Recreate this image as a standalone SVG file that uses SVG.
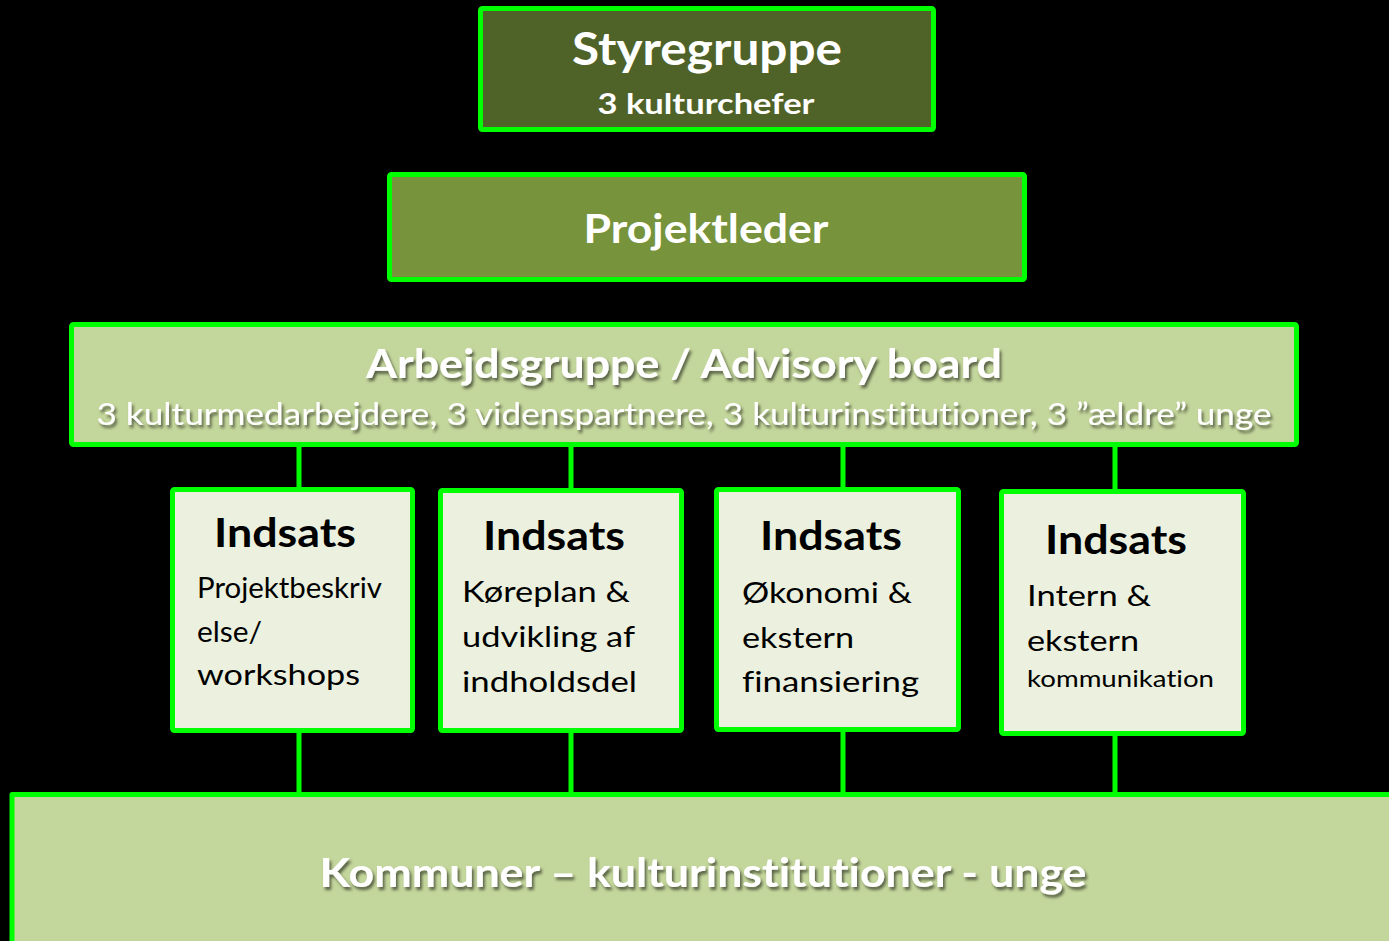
<svg xmlns="http://www.w3.org/2000/svg" width="1389" height="941" viewBox="0 0 1389 941">
<defs>
<filter id="sh" x="-5%" y="-30%" width="110%" height="160%">
<feDropShadow dx="2" dy="3" stdDeviation="1.5" flood-color="#000" flood-opacity="0.55"/>
</filter>
</defs>
<style>
.box{stroke:#00FF00;stroke-width:5;stroke-linejoin:round}
.con{stroke:#00FF00;stroke-width:5;fill:none}
.t{font-family:Lato,"Open Sans","Liberation Sans",sans-serif;font-variant-ligatures:none;font-feature-settings:"liga" 0,"clig" 0,"dlig" 0}
.b{font-weight:bold}
.w{fill:#FFFFFF}
.k{fill:#000000}
.c{text-anchor:middle}
.ind{font-size:41px;font-weight:bold;fill:#000}
.body{font-size:28px;fill:#000}
</style>
<rect x="0" y="0" width="1389" height="941" fill="#000"/>
<g id="connectors">
<line class="con" x1="299" y1="446" x2="299" y2="490"/>
<line class="con" x1="571" y1="446" x2="571" y2="490"/>
<line class="con" x1="843" y1="446" x2="843" y2="490"/>
<line class="con" x1="1115" y1="446" x2="1115" y2="492"/>
<line class="con" x1="299" y1="731" x2="299" y2="795"/>
<line class="con" x1="571" y1="731" x2="571" y2="795"/>
<line class="con" x1="843" y1="730" x2="843" y2="795"/>
<line class="con" x1="1115" y1="734" x2="1115" y2="795"/>
</g>
<g id="styregruppe">
<rect class="box" x="480.5" y="8.5" width="453" height="121" rx="2" fill="#4F6228"/>
<text class="t b w c" x="707" y="65" font-size="46" textLength="270" lengthAdjust="spacingAndGlyphs">Styregruppe</text>
<text class="t b w c" x="706" y="114" font-size="29" textLength="217" lengthAdjust="spacingAndGlyphs">3 kulturchefer</text>
</g>
<g id="projektleder">
<rect class="box" x="389.5" y="174.5" width="635" height="105" rx="2" fill="#77933C"/>
<text class="t b w c" x="706" y="243" font-size="41" textLength="245" lengthAdjust="spacingAndGlyphs">Projektleder</text>
</g>
<g id="arbejdsgruppe">
<rect class="box" x="71.5" y="324.5" width="1225" height="120" rx="2" fill="#C3D69B"/>
<text class="t b w c" x="684" y="378" font-size="41" filter="url(#sh)" textLength="636" lengthAdjust="spacingAndGlyphs">Arbejdsgruppe / Advisory board</text>
<text class="t w c" x="684" y="425" font-size="30" filter="url(#sh)" textLength="1175" lengthAdjust="spacingAndGlyphs">3 kulturmedarbejdere, 3 videnspartnere, 3 kulturinstitutioner, 3 ”ældre” unge</text>
</g>
<g id="indsats1">
<rect class="box" x="172.5" y="489.5" width="240" height="241" rx="2" fill="#EBF1DE"/>
<text class="t ind" x="214" y="547" textLength="142" lengthAdjust="spacingAndGlyphs">Indsats</text>
<text class="t body" x="197" y="598" textLength="185" lengthAdjust="spacingAndGlyphs">Projektbeskriv</text>
<text class="t body" x="197" y="642" textLength="65" lengthAdjust="spacingAndGlyphs">else/</text>
<text class="t body" x="197" y="685" textLength="163" lengthAdjust="spacingAndGlyphs">workshops</text>
</g>
<g id="indsats2">
<rect class="box" x="440.5" y="490.5" width="241" height="240" rx="2" fill="#EBF1DE"/>
<text class="t ind" x="483" y="550" textLength="142" lengthAdjust="spacingAndGlyphs">Indsats</text>
<text class="t body" x="462" y="602" textLength="168" lengthAdjust="spacingAndGlyphs">Køreplan &amp;</text>
<text class="t body" x="462" y="647" textLength="173" lengthAdjust="spacingAndGlyphs">udvikling af</text>
<text class="t body" x="462" y="692" textLength="175" lengthAdjust="spacingAndGlyphs">indholdsdel</text>
</g>
<g id="indsats3">
<rect class="box" x="716.5" y="489.5" width="242" height="240" rx="2" fill="#EBF1DE"/>
<text class="t ind" x="760" y="550" textLength="142" lengthAdjust="spacingAndGlyphs">Indsats</text>
<text class="t body" x="742" y="603" textLength="170" lengthAdjust="spacingAndGlyphs">Økonomi &amp;</text>
<text class="t body" x="742" y="648" textLength="112" lengthAdjust="spacingAndGlyphs">ekstern</text>
<text class="t body" x="742" y="692" textLength="177" lengthAdjust="spacingAndGlyphs">finansiering</text>
</g>
<g id="indsats4">
<rect class="box" x="1001.5" y="491.5" width="242" height="242" rx="2" fill="#EBF1DE"/>
<text class="t ind" x="1045" y="554" textLength="142" lengthAdjust="spacingAndGlyphs">Indsats</text>
<text class="t body" x="1027" y="606" textLength="124" lengthAdjust="spacingAndGlyphs">Intern &amp;</text>
<text class="t body" x="1027" y="651" textLength="112" lengthAdjust="spacingAndGlyphs">ekstern</text>
<text class="t" x="1027" y="687" font-size="24" fill="#000" textLength="187" lengthAdjust="spacingAndGlyphs">kommunikation</text>
</g>
<g id="kommuner">
<rect class="box" x="12" y="794.5" width="1400" height="200" fill="#C3D69B"/>
<text class="t b w c" x="703" y="887" font-size="41" filter="url(#sh)" textLength="767" lengthAdjust="spacingAndGlyphs">Kommuner – kulturinstitutioner - unge</text>
</g>
</svg>
